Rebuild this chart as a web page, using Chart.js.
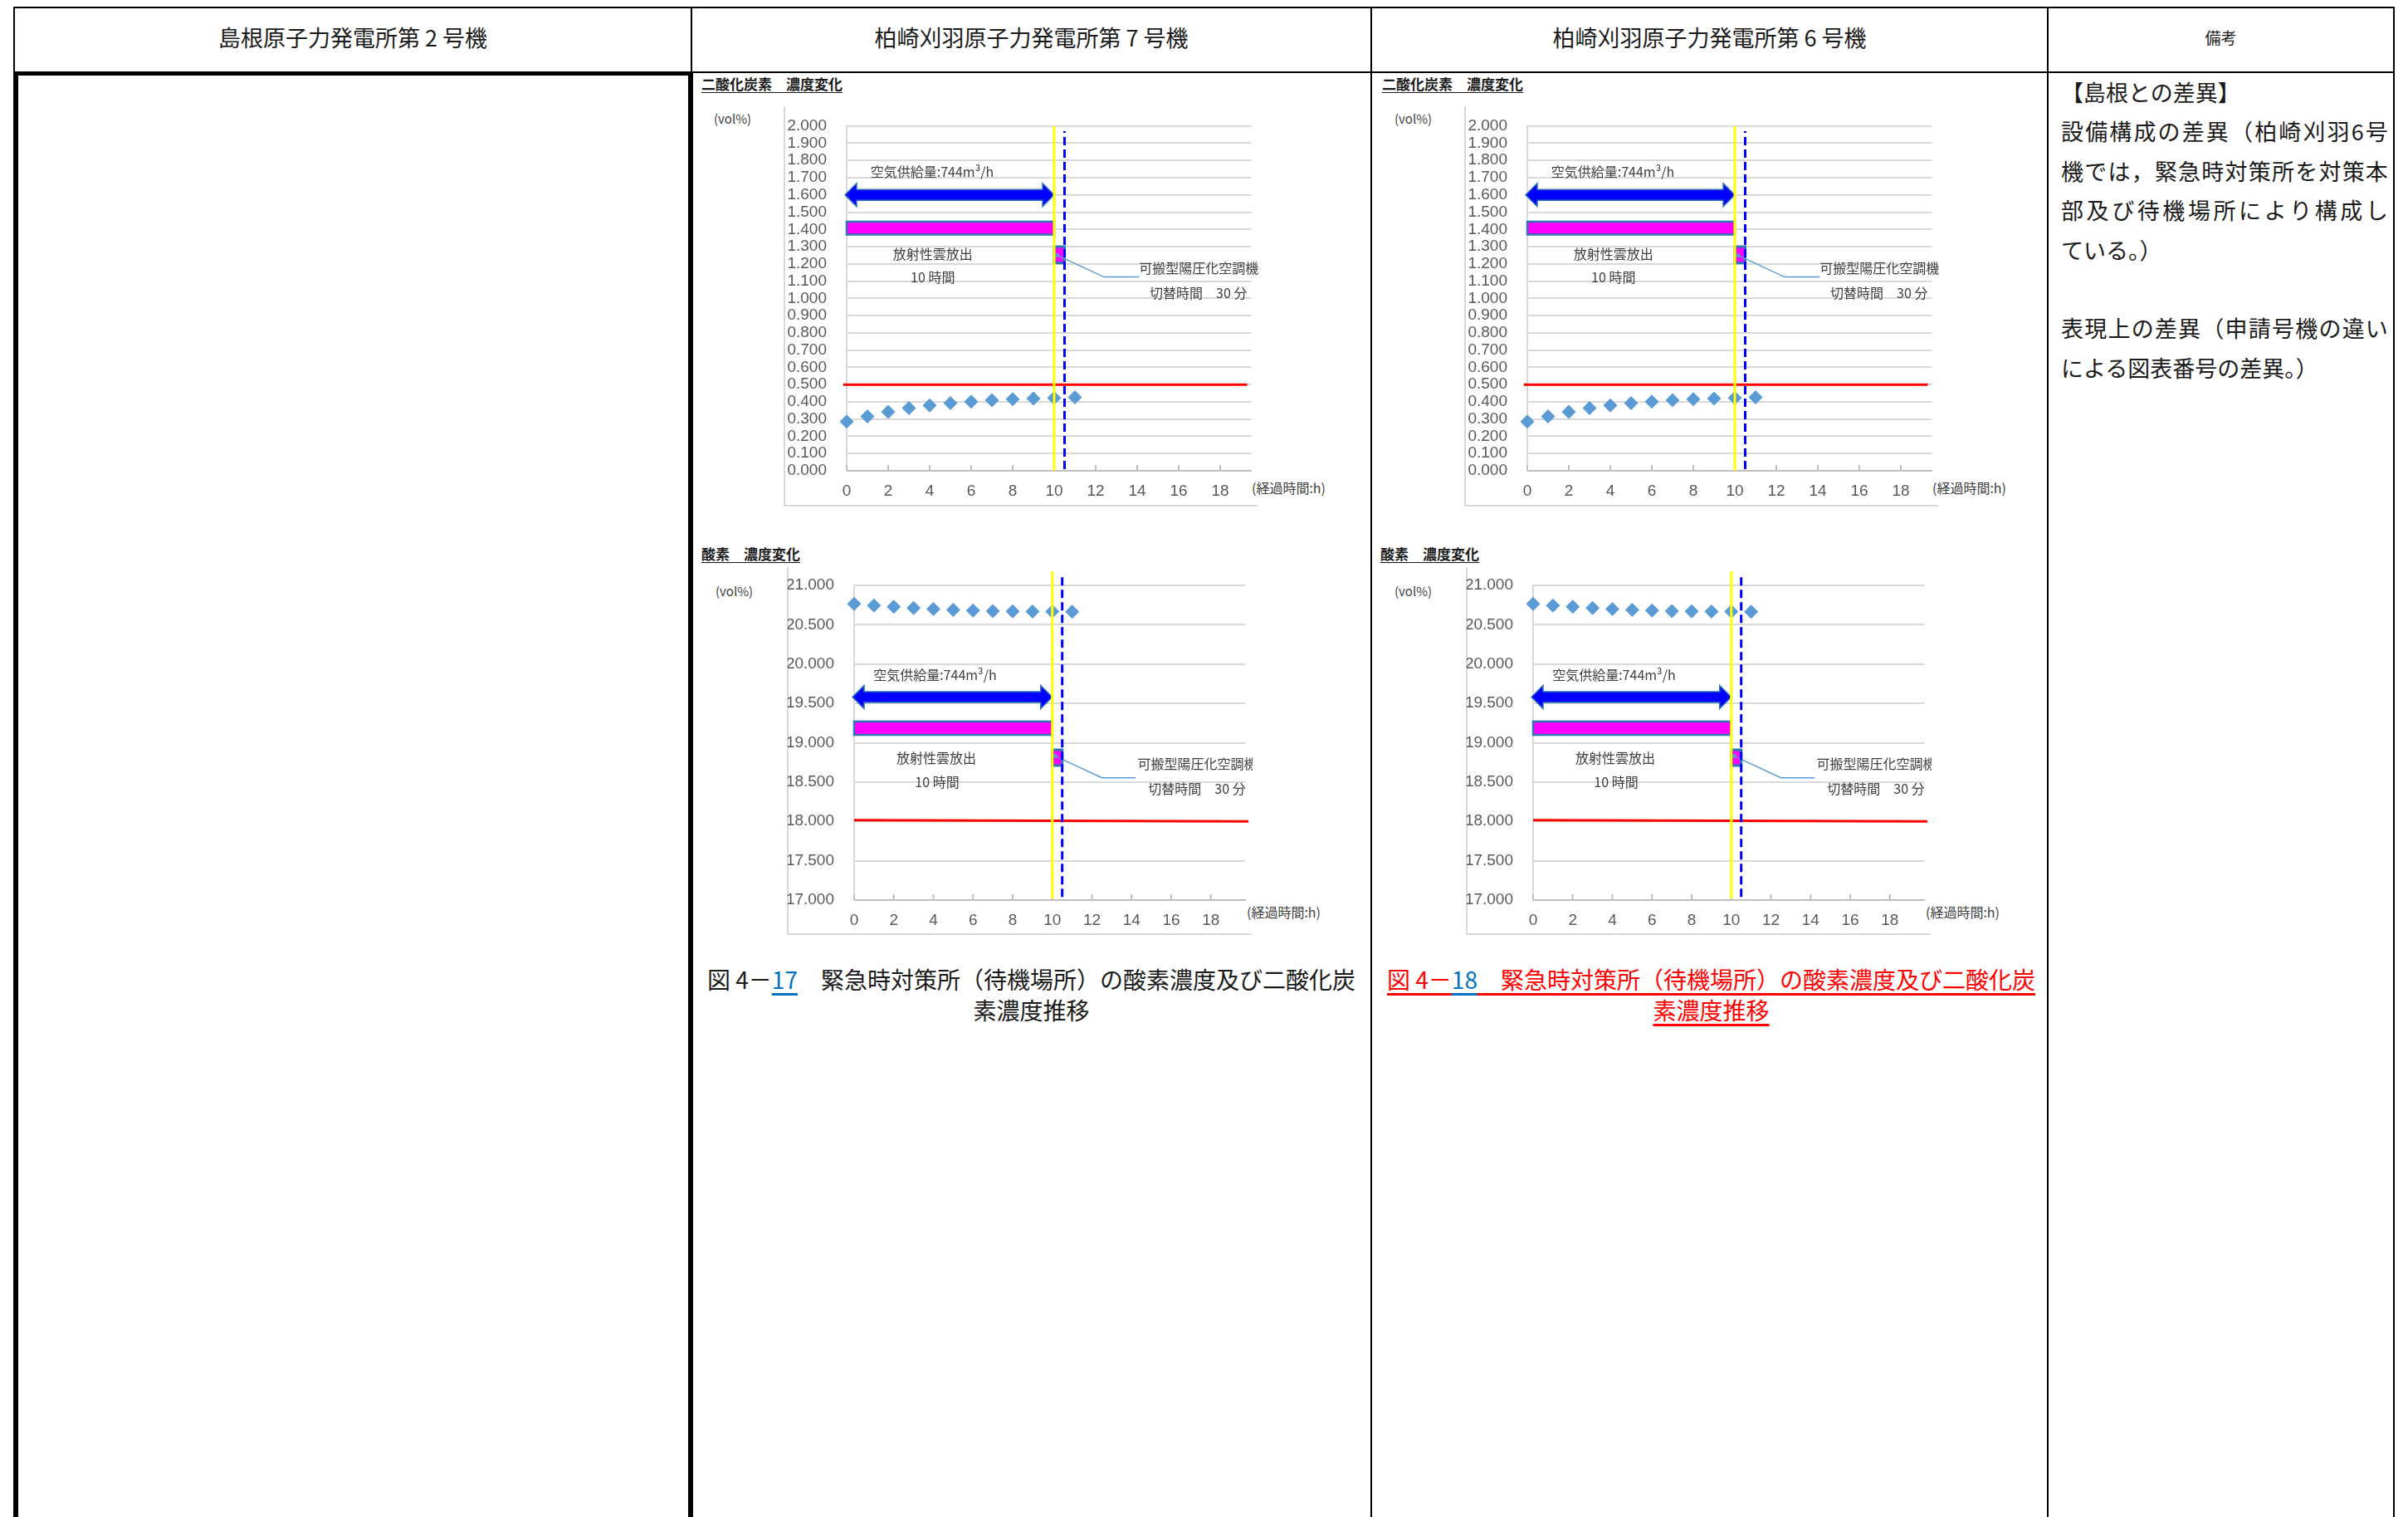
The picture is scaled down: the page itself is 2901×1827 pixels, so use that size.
<!DOCTYPE html>
<html>
<head>
<meta charset="utf-8">
<script src="https://cdn.jsdelivr.net/npm/chart.js@4.4.0/dist/chart.umd.min.js"></script>
<style>
body{margin:0;width:2901px;height:1827px;background:#fff;position:relative;overflow:hidden;font-family:"Noto Sans CJK JP",sans-serif;color:#1a1a1a}
.ln{position:absolute;background:#000}
.fr{position:absolute;background:#d9d9d9}
.hd{position:absolute;top:5px;height:78px;display:flex;align-items:center;justify-content:center;font-size:27px;white-space:nowrap}
.ttl{position:absolute;font-size:17px;font-weight:700;line-height:20px;white-space:nowrap;text-decoration:underline;text-underline-offset:3px}
.unit{position:absolute;font-size:15px;line-height:18px;color:#404040;white-space:nowrap}
.cap{position:absolute;width:819px;text-align:center;font-size:28px;line-height:37px;white-space:nowrap}
.blu{color:#0070c0;text-decoration:underline;text-decoration-color:#0070c0;text-decoration-thickness:3px;text-underline-offset:5px}
.red{color:#ff0000;text-decoration:underline;text-decoration-color:#ff0000;text-decoration-thickness:3px;text-underline-offset:5px}
.rem{position:absolute;left:2483px;top:87px;width:394px;font-size:27px}
.rem div{height:47.4px;line-height:47.4px;white-space:nowrap}
.rem .j{display:flex;justify-content:space-between}
canvas{position:absolute}
</style>
</head>
<body>
<!-- table lines -->
<div class="ln" style="left:16px;top:8px;width:2869px;height:2px"></div>
<div class="ln" style="left:833px;top:86px;width:2052px;height:2px"></div>
<div class="ln" style="left:16px;top:8px;width:2px;height:80px"></div>
<div class="ln" style="left:832px;top:8px;width:2px;height:80px"></div>
<div class="ln" style="left:1651px;top:8px;width:2px;height:1819px"></div>
<div class="ln" style="left:2466px;top:8px;width:2px;height:1819px"></div>
<div class="ln" style="left:2883px;top:8px;width:2px;height:1819px"></div>
<!-- thick frame of the first column body -->
<div class="ln" style="left:16px;top:86px;width:819px;height:5px"></div>
<div class="ln" style="left:16px;top:86px;width:6px;height:1741px"></div>
<div class="ln" style="left:829px;top:86px;width:6px;height:1741px"></div>

<div class="hd" style="left:18px;width:814px">島根原子力発電所第 2 号機</div>
<div class="hd" style="left:834px;width:817px">柏崎刈羽原子力発電所第 7 号機</div>
<div class="hd" style="left:1653px;width:813px">柏崎刈羽原子力発電所第 6 号機</div>
<div class="hd" style="left:2468px;width:415px;font-size:19px">備考</div>

<div id="charts"></div>

<div class="cap" style="left:833px;top:1161px">図 4－<span class="blu">17</span>　緊急時対策所（待機場所）の酸素濃度及び二酸化炭<br>素濃度推移</div>
<div class="cap" style="left:1652px;top:1161px;color:#ff0000"><span class="red">図 4－</span><span class="blu">18</span><span class="red">　緊急時対策所（待機場所）の酸素濃度及び二酸化炭</span><br><span class="red">素濃度推移</span></div>

<div class="rem" id="rem"></div>

<script>
// 経過時間 (h)
const hours = [0, 1, 2, 3, 4, 5, 6, 7, 8, 9, 10, 11]
// 二酸化炭素濃度 (vol%)
const co2Values = [0.285, 0.316, 0.342, 0.364, 0.379, 0.392, 0.401, 0.409, 0.415, 0.419, 0.422, 0.426]
// 酸素濃度 (vol%)
const o2Values = [20.765, 20.744, 20.727, 20.713, 20.699, 20.688, 20.681, 20.674, 20.671, 20.667, 20.667, 20.664]
const co2Limit = 0.5
const o2Limit = 18.0
const releaseHours = [0, 10]     // 放射性雲放出 10 時間
const switchHours = [10, 10.5]   // 切替時間 30 分
const xTickStep = 2
const co2Range = [0, 2, 0.1]
const o2Range = [17, 21, 0.5]

const labels = ['空気供給量:744m³/h', '放射性雲放出', '10 時間', '可搬型陽圧化空調機', '切替時間　30 分']

const remarks = [
  ['【島根との差異】', false],
  ['設備構成の差異（柏崎刈羽 6 号', true],
  ['機では，緊急時対策所を対策本', true],
  ['部及び待機場所により構成し', true],
  ['ている。）', false],
  ['', false],
  ['表現上の差異（申請号機の違い', true],
  ['による図表番号の差異。）', false]
]

const rem = document.getElementById('rem')
remarks.forEach(([txt, just]) => {
  const d = document.createElement('div')
  if (just) {
    d.className = 'j'
    txt.split('').filter(c => c !== ' ').forEach(c => {
      const s = document.createElement('span')
      s.textContent = c
      d.appendChild(s)
    })
  } else {
    d.textContent = txt || '\u00a0'
  }
  rem.appendChild(d)
})

// y positions (in chart units) for the drawn explanations
const co2Spec = {
  values: co2Values, range: co2Range, xMax: 19.5,
  limit: [[-0.17, co2Limit], [19.3, co2Limit]],
  yellow: [[releaseHours[1], 0], [releaseHours[1], 2]],
  dashed: [[switchHours[1], 0.01], [switchHours[1], 1.97]],
  arrowY: 1.6, barY: [1.37, 1.445], boxY: [1.205, 1.3],
  callout: [[10.15, 1.25], [12.4, 1.124], [14.1, 1.124]],
  textPos: [[4.12, 1.735], [4.15, 1.258], [4.15, 1.122], [16.97, 1.174], [16.95, 1.03]]
}
const o2Spec = {
  values: o2Values, range: o2Range, xMax: 19.75,
  limit: [[0, o2Limit + 0.015], [19.9, o2Limit]],
  yellow: [[releaseHours[1], 17.02], [releaseHours[1], 21.18]],
  dashed: [[switchHours[1], 17.04], [switchHours[1], 21.14]],
  arrowY: 19.58, barY: [19.1, 19.27], boxY: [18.71, 18.91],
  callout: [[10.15, 18.83], [12.5, 18.555], [14.2, 18.555]],
  textPos: [[4.08, 19.86], [4.15, 18.81], [4.19, 18.5], [17.32, 18.73], [17.3, 18.42]]
}

const pts = arr => arr.map(p => ({ x: p[0], y: p[1] }))

function makeOverlay(spec) {
  return {
    id: 'overlay',
    beforeDatasetsDraw(chart) {
      const ctx = chart.ctx
      const X = chart.scales.x, Y = chart.scales.y
      const px = v => X.getPixelForValue(v), py = v => Y.getPixelForValue(v)
      ctx.save()
      // inner tick marks
      ctx.strokeStyle = '#bfbfbf'
      ctx.lineWidth = 2
      X.ticks.forEach(t => {
        const x = px(t.value)
        ctx.beginPath(); ctx.moveTo(x, Y.bottom); ctx.lineTo(x, Y.bottom - 7); ctx.stroke()
      })
      // magenta bar (release)
      const bx0 = px(releaseHours[0]), bx1 = px(releaseHours[1])
      const by0 = py(spec.barY[1]), by1 = py(spec.barY[0])
      ctx.fillStyle = '#ff00ff'
      ctx.strokeStyle = '#2e75b6'
      ctx.lineWidth = 2.5
      ctx.fillRect(bx0, by0, bx1 - bx0, by1 - by0)
      ctx.strokeRect(bx0, by0, bx1 - bx0, by1 - by0)
      // double arrow (air supply)
      const ay = py(spec.arrowY), body = 6.5, head = 14, hl = 14
      ctx.beginPath()
      ctx.moveTo(bx0 - 2, ay)
      ctx.lineTo(bx0 - 2 + hl, ay - head)
      ctx.lineTo(bx0 - 2 + hl, ay - body)
      ctx.lineTo(bx1 - hl, ay - body)
      ctx.lineTo(bx1 - hl, ay - head)
      ctx.lineTo(bx1, ay)
      ctx.lineTo(bx1 - hl, ay + head)
      ctx.lineTo(bx1 - hl, ay + body)
      ctx.lineTo(bx0 - 2 + hl, ay + body)
      ctx.lineTo(bx0 - 2 + hl, ay + head)
      ctx.closePath()
      ctx.fillStyle = '#0000ff'
      ctx.fill()
      ctx.lineWidth = 1.5
      ctx.strokeStyle = '#2e75b6'
      ctx.stroke()
      // small box (switch time)
      const sx0 = px(switchHours[0]), sx1 = px(switchHours[1])
      const sy0 = py(spec.boxY[1]), sy1 = py(spec.boxY[0])
      ctx.fillStyle = '#ff00ff'
      ctx.fillRect(sx0, sy0, sx1 - sx0, sy1 - sy0)
      ctx.lineWidth = 3
      ctx.strokeStyle = '#2e75b6'
      ctx.strokeRect(sx0, sy0, sx1 - sx0, sy1 - sy0)
      // callout
      ctx.strokeStyle = '#5b9bd5'
      ctx.lineWidth = 1.5
      ctx.beginPath()
      spec.callout.forEach((c, i) => i ? ctx.lineTo(px(c[0]), py(c[1])) : ctx.moveTo(px(c[0]), py(c[1])))
      ctx.stroke()
      ctx.fillStyle = '#5b9bd5'
      ctx.beginPath()
      ctx.arc(px(spec.callout[0][0]), py(spec.callout[0][1]), 2.5, 0, Math.PI * 2)
      ctx.fill()
      // texts
      ctx.fillStyle = '#404040'
      ctx.font = '16px "Noto Sans CJK JP"'
      ctx.textAlign = 'center'
      ctx.textBaseline = 'middle'
      labels.forEach((t, i) => ctx.fillText(t, px(spec.textPos[i][0]), py(spec.textPos[i][1])))
      ctx.restore()
    }
  }
}

const tickFont = { family: 'Liberation Sans', size: 19 }

function buildChart(frame, spec, title, titleTop) {
  const host = document.getElementById('charts')
  const add = (cls, style, text) => {
    const d = document.createElement('div')
    d.className = cls
    d.style.cssText = style
    if (text) d.textContent = text
    host.appendChild(d)
  }
  // chart area frame (left + bottom)
  add('fr', `left:${frame.left - 1}px;top:${frame.top}px;width:2px;height:${frame.h}px`)
  add('fr', `left:${frame.left - 1}px;top:${frame.top + frame.h - 1}px;width:${frame.w}px;height:2px`)
  add('ttl', `left:${frame.titleLeft}px;top:${titleTop}px`, title)
  add('unit', `left:${frame.unitLeft}px;top:${frame.unitTop}px`, '(vol%)')
  add('unit', `left:${frame.xUnitLeft}px;top:${frame.top + frame.h - frame.xAxisH - 3 + frame.xUnitDy}px;font-size:16px`, '(経過時間:h)')

  const cv = document.createElement('canvas')
  cv.width = frame.w
  cv.height = frame.h
  cv.style.left = frame.left + 'px'
  cv.style.top = frame.top + 'px'
  host.appendChild(cv)

  return new Chart(cv, {
    type: 'scatter',
    data: {
      datasets: [
        { data: pts(spec.yellow), showLine: true, borderColor: '#ffff00', borderWidth: 3, pointRadius: 0, clip: false, order: 0 },
        { data: pts(spec.dashed), showLine: true, borderColor: '#0000ff', borderWidth: 3, borderDash: [10, 5], pointRadius: 0, clip: false, order: 0 },
        { data: pts(spec.limit), showLine: true, borderColor: '#ff0000', borderWidth: 3, pointRadius: 0, clip: false, order: 1 },
        {
          data: hours.map((h, i) => ({ x: h, y: spec.values[i] })),
          pointStyle: 'rectRot', pointRadius: 8.5, backgroundColor: '#5b9bd5',
          borderColor: '#5b9bd5', borderWidth: 0, clip: false, order: 2
        }
      ]
    },
    options: {
      responsive: false,
      animation: false,
      devicePixelRatio: 1,
      events: [],
      layout: { padding: { top: frame.padTop, right: 0, left: 0, bottom: 0 } },
      plugins: { legend: { display: false }, tooltip: { enabled: false } },
      scales: {
        x: {
          type: 'linear', min: 0, max: spec.xMax,
          ticks: { stepSize: xTickStep, includeBounds: false, autoSkip: false, maxRotation: 0, padding: 13, color: '#595959', font: tickFont },
          grid: { display: false, drawTicks: false },
          border: { display: true, color: '#bfbfbf', width: 2 },
          afterFit(s) { s.height = frame.xAxisH; s.paddingLeft = 0; s.paddingRight = 0 }
        },
        y: {
          min: spec.range[0], max: spec.range[1],
          ticks: { stepSize: spec.range[2], autoSkip: false, padding: 24, color: '#595959', font: tickFont, callback: v => v.toFixed(3) },
          grid: { color: '#d9d9d9', lineWidth: 2, drawTicks: false },
          border: { display: true, color: '#d9d9d9', width: 2 },
          afterFit(s) { s.width = frame.yAxisW; s.paddingTop = 0; s.paddingBottom = 0 }
        }
      }
    },
    plugins: [makeOverlay(spec)]
  })
}

const colShift = [0, 820]
const colShiftO2 = [0, 818]

colShift.forEach(dx => {
  buildChart({ left: 945 + dx, top: 128, w: 571, h: 481, yAxisW: 75, xAxisH: 42, padTop: 23.7,
    titleLeft: 845 + dx, unitLeft: 860 + dx, unitTop: 134, xUnitLeft: 1508 + dx, xUnitDy: 14 }, co2Spec, '二酸化炭素　濃度変化', 91)
})
colShiftO2.forEach(dx => {
  buildChart({ left: 949 + dx, top: 683, w: 560, h: 442, yAxisW: 80, xAxisH: 41, padTop: 22,
    titleLeft: 845 + dx, unitLeft: 862 + dx, unitTop: 703, xUnitLeft: 1502 + dx, xUnitDy: 8 }, o2Spec, '酸素　濃度変化', 657)
})
</script>
</body>
</html>
